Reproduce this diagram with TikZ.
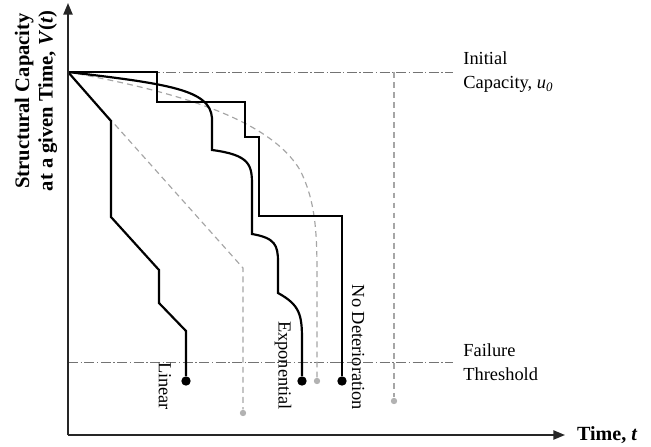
\documentclass[tikz,border=0pt]{standalone}
\usepackage{fontspec}
\setmainfont{Liberation Serif}
\usetikzlibrary{arrows.meta}

\begin{document}
\begin{tikzpicture}[x=0.021cm,y=-0.021cm,>={Triangle[length=7pt,width=5.5pt]},
	curve/.style={line width=1.3pt,line join=miter},
	greycurve/.style={line width=0.7pt,black!35,dash pattern=on 3.5pt off 2.5pt},
	refline/.style={line width=0.5pt,black!55,dash pattern=on 6pt off 1.5pt on 0.8pt off 1.5pt},
	blackdot/.style={circle,fill=black,inner sep=0pt,minimum size=5.6pt},
	greydot/.style={circle,fill=black!30,inner sep=0pt,minimum size=3.8pt},
	lbl/.style={font=\fontsize{11}{14.5}\selectfont}]
	\useasboundingbox (0,0) rectangle (651,447);

	%origin and start point
	\coordinate (O) at (68,435);
	\coordinate (u0) at (68,72);

	%reference lines
	\draw[refline] (u0)--(453,72) coordinate (initend);
	\draw[refline] (68,362)--(453,362) coordinate (failend);

	%grey dots
	\node[greydot] (glinend) at (243,413) {};
	\node[greydot] (gexpend) at (317,381) {};
	\node[greydot] (gnoend)  at (394,401) {};

	%grey dashed curves
	\draw[greycurve] (u0)--(243,268)--(glinend);								%linear
	\draw[greycurve] (u0) .. controls (180,92) and (270,120) .. (300,170)
		.. controls (315,200) and (317,230) .. (317,273)--(gexpend);			%exponential
	\draw[greycurve] (394,72)--(gnoend);										%no deterioration

	%black dots
	\node[blackdot] (linend) at (186,381) {};
	\node[blackdot] (expend) at (302,381) {};
	\node[blackdot] (noend)  at (342,381) {};

	%black curves
	\draw[curve] (u0)--(111,121)--(111,217)--(159,270)--(159,303)--(186,331)--(linend);	%linear
	\draw[curve] (u0) .. controls (170,84) and (210,90) .. (212,118)--(212,150)
		.. controls (250,155) and (252,165) .. (252,185)--(252,234)
		.. controls (275,238) and (278,245) .. (278,262)--(278,293)
		.. controls (300,305) and (302,315) .. (302,340)--(expend);				%exponential
	\draw[curve] (u0)--(157,72)--(157,102)--(245,102)--(245,137)--(259,137)--(259,216)--(342,216)--(noend);	%no deterioration

	%axes
	\draw[->,line width=1.1pt,black!85] (O)--(68,3);
	\draw[->,line width=1.1pt,black!85] (O)--(565,435) coordinate (tend);

	%labels
	\node[lbl,rotate=-90,anchor=east] (linlbl) at (165,416) {Linear};
	\node[lbl,rotate=-90,anchor=east] (explbl) at (283,416) {Exponential};
	\node[lbl,rotate=-90,anchor=east] (nolbl)  at (358,416) {No Deterioration};
	%
	\node[lbl,anchor=west,align=left,inner sep=2pt] (initlbl) at ([xshift=4pt]initend) {Initial\\Capacity, \textit{u}\textsubscript{\textit{0}}};
	\node[lbl,anchor=west,align=left,inner sep=2pt] (faillbl) at ([xshift=4pt]failend) {Failure\\Threshold};
	%
	\node[font=\fontsize{12}{14}\selectfont\bfseries,anchor=west,inner sep=2pt] (tlbl) at ([xshift=5pt]tend) {Time, \textit{t}};
	\node[font=\fontsize{12.3}{14}\selectfont\bfseries,rotate=90,align=center] (vlbl) at (36,101) {Structural Capacity\\at a given Time, \textit{V}(\textit{t})};
\end{tikzpicture}
\end{document}
